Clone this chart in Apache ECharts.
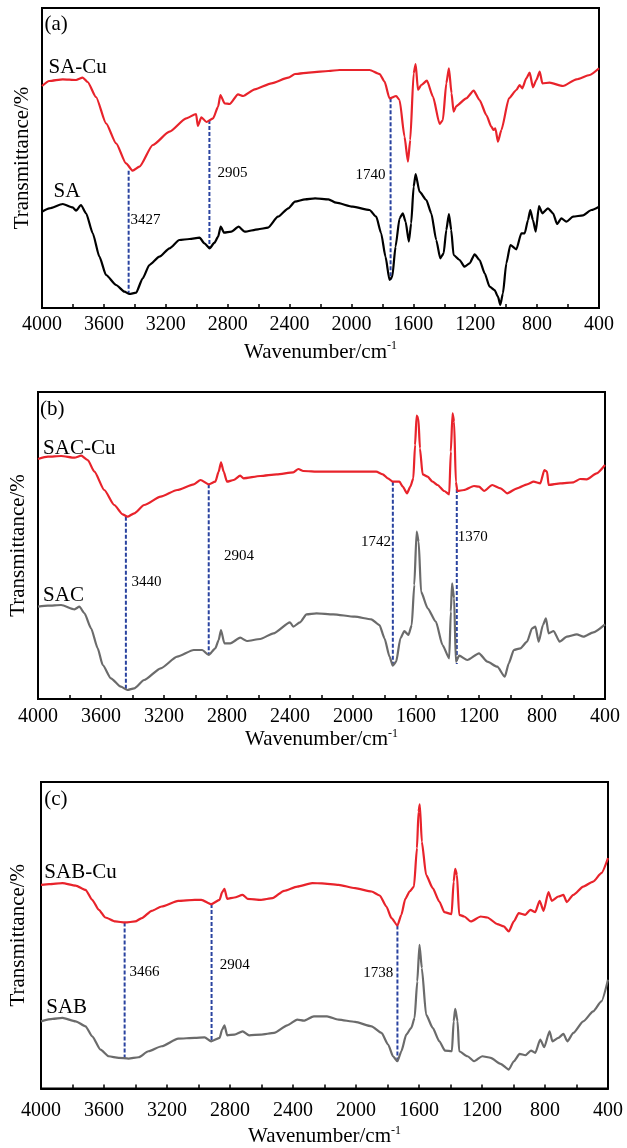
<!DOCTYPE html>
<html>
<head>
<meta charset="utf-8">
<script src="https://cdn.jsdelivr.net/npm/echarts/dist/echarts.min.js"></script>
<style>
  html, body { margin: 0; padding: 0; background: #fff; }
  #chart { width: 627px; height: 1148px; }
</style>
</head>
<body>
<div id="chart"></div>
<script>
// FTIR spectra, [wavenumber cm-1, relative transmittance]
const saCu = [[4000,222],[3953,227],[3866,228.7],[3780,228],[3737,230.3],[3705,226],[3651,211],[3586,184.7],[3521,164.7],[3457,144.7],[3414,137.3],[3370,141.3],[3284,163],[3176,176.3],[3068,189.7],[3004,194],[2993,182],[2970,190.7],[2937,186],[2894,189.7],[2862,201.3],[2847,213],[2820,204.7],[2787,204],[2733,213.7],[2700,212],[2625,218.7],[2517,224.7],[2408,230.3],[2365,234],[2257,235.7],[2149,237],[2077,238],[1883,238],[1818,234],[1786,226.3],[1754,209.7],[1711,212],[1689,208],[1657,171.3],[1635,146.3],[1620,168],[1598,234.7],[1585,244],[1570,218],[1549,223],[1512,227.3],[1473,211.3],[1430,184],[1409,188],[1387,224.7],[1370,239.7],[1353,214.7],[1340,196.3],[1322,202],[1258,209.7],[1210,217.3],[1172,208],[1128,193],[1096,181.3],[1081,178],[1070,179.7],[1053,166.3],[1031,178],[982,209.7],[934,218],[913,223],[896,219.7],[870,229.7],[848,235.3],[827,220.7],[805,228],[783,236.3],[766,224.7],[719,225.3],[633,222],[546,228.7],[460,233],[400,239.7]];
const sa = [[4000,96.3],[3953,99.7],[3866,104],[3802,100.7],[3780,97.3],[3748,103],[3715,94.7],[3672,74.7],[3629,51.3],[3586,33],[3521,23],[3467,16.3],[3435,14],[3392,15.3],[3349,29.7],[3306,43],[3241,51.3],[3176,59.7],[3112,68],[3047,69],[2982,70.3],[2950,64.7],[2917,59.7],[2885,65.3],[2862,71.3],[2845,81.3],[2823,75.3],[2776,76.3],[2729,81.3],[2690,76.3],[2604,78.7],[2539,80.3],[2475,91.3],[2408,99.7],[2365,106.3],[2300,108.7],[2235,109.7],[2149,108.7],[2099,105.3],[1991,101.3],[1883,98],[1840,91.3],[1808,74.7],[1780,51.3],[1754,28],[1736,31.3],[1715,61.3],[1689,89.7],[1668,94.7],[1650,86.3],[1629,66.3],[1614,84.7],[1598,121.3],[1585,134],[1560,116.3],[1516,108],[1484,94.7],[1452,68],[1426,49.7],[1404,54.7],[1387,78],[1370,94],[1355,78],[1340,53],[1301,48],[1269,41.3],[1236,44.7],[1204,53.7],[1172,48],[1139,34.7],[1107,21.3],[1075,18],[1053,11.3],[1038,3],[1021,14.7],[999,44.7],[973,63],[934,58.7],[902,74.7],[880,74.7],[859,88],[844,98],[827,88],[809,76.3],[788,102],[766,94.7],[730,99.7],[697,94.7],[671,84],[643,89.7],[611,86.3],[568,91.3],[503,92.7],[449,98],[400,101.3]];
const sacCu = [[4000,240],[3937,242.3],[3853,243],[3768,241.3],[3726,243.3],[3684,239],[3642,227.3],[3579,209],[3516,194],[3463,184.7],[3432,182.3],[3389,185.7],[3326,194],[3221,202.3],[3116,209],[3011,214.7],[2968,219],[2916,214.7],[2874,217.3],[2853,227.3],[2838,236.7],[2821,227.3],[2800,217.3],[2758,219],[2716,223.3],[2695,220.7],[2589,223],[2484,224.7],[2379,226.7],[2347,230],[2316,228],[2211,227.3],[1989,227.3],[1853,227.3],[1811,224.7],[1779,220.7],[1747,217.3],[1705,217.3],[1684,212.3],[1657,205.7],[1636,212.3],[1617,220.7],[1606,254],[1596,283.3],[1585,280.7],[1575,250.7],[1558,224.7],[1526,222.3],[1495,217.3],[1463,214],[1421,208],[1389,204.7],[1379,247.3],[1368,285.7],[1358,277.3],[1347,217.3],[1337,208],[1295,209],[1232,213],[1200,212.3],[1168,208],[1116,214],[1063,210.7],[1021,205.7],[958,210.7],[895,214.7],[853,217.3],[811,215.7],[785,229],[768,227.3],[758,214],[684,215.7],[600,216.7],[558,220],[516,219.7],[453,225.7],[400,234]];
const sac = [[4000,92.3],[3937,93.3],[3853,94],[3768,89.7],[3737,92.3],[3705,85.7],[3663,70.7],[3621,50.7],[3589,34],[3537,20.7],[3474,12.3],[3432,9],[3389,10.7],[3326,19],[3221,30.7],[3116,42.3],[3011,49],[2958,49],[2916,44],[2874,50.7],[2853,59],[2838,69],[2817,55.7],[2779,55.7],[2716,61.3],[2674,58],[2589,60],[2505,65.7],[2400,76.7],[2379,72.3],[2337,76.7],[2295,84.7],[2232,85.7],[2126,84.7],[1989,82.3],[1884,79.7],[1832,74],[1800,60.7],[1768,42.3],[1747,33.3],[1726,37.3],[1699,60.7],[1674,68],[1648,64],[1627,74],[1611,114],[1596,167.3],[1583,157.3],[1568,107.3],[1526,90.7],[1474,77.3],[1432,54],[1389,40.7],[1379,87.3],[1371,115.7],[1358,100.7],[1347,37.3],[1326,43.3],[1274,39],[1200,45.7],[1147,37.3],[1084,32.3],[1036,22.3],[1011,35.7],[979,49],[937,50.7],[895,57.3],[863,70.7],[842,72.3],[821,57.3],[794,74],[775,80.7],[758,65.7],[726,68],[688,57.3],[642,62.3],[579,64.7],[537,62.3],[474,66.7],[400,74.7]];
const sabCu = [[4000,204],[3948,204.7],[3864,205.7],[3780,203.3],[3717,199],[3675,189],[3633,179],[3591,171.3],[3528,167.3],[3465,166.3],[3402,167.3],[3360,170.7],[3297,178],[3234,182.3],[3129,188],[3024,189],[2982,189],[2919,184.7],[2866,189],[2850,196.7],[2835,200],[2818,190],[2772,191.3],[2720,194],[2688,190],[2604,189],[2530,190.7],[2457,198],[2373,202.3],[2278,205.7],[2216,205.5],[2111,204],[2006,200.7],[1901,197.3],[1849,193.3],[1807,182.3],[1775,170.7],[1737,163.3],[1712,174],[1687,190],[1660,197.3],[1632,202.3],[1613,240.7],[1603,277.3],[1595,284.7],[1582,247.3],[1555,214],[1513,200.7],[1471,187.3],[1439,176.7],[1393,174.7],[1380,207.3],[1370,220],[1359,214],[1345,174],[1313,172.3],[1271,167.3],[1208,172.3],[1166,171.3],[1103,164.7],[1061,162.3],[1030,157.3],[998,167.3],[967,175.7],[925,174],[893,179],[862,176.7],[834,188],[809,178],[778,196.7],[757,188],[715,192.3],[683,194],[662,186.7],[620,194],[557,202.3],[494,207.3],[442,215.7],[400,230.7]];
const sab = [[4000,67.3],[3926,69.7],[3864,70.7],[3780,67.3],[3717,62.3],[3675,52.3],[3622,39],[3570,32.3],[3507,30.7],[3444,30],[3381,31.3],[3318,37.3],[3234,42.3],[3129,50],[3024,50.7],[2961,51.3],[2919,47.3],[2866,50.7],[2850,59],[2835,63.3],[2818,53.3],[2772,54],[2720,57.3],[2678,53.3],[2604,54],[2520,55.7],[2436,63.3],[2373,69],[2331,68],[2268,72.3],[2184,72.3],[2111,69],[2006,66.7],[1901,62.3],[1838,55.7],[1796,44],[1765,32.3],[1737,27.3],[1712,37.3],[1681,54],[1649,60.7],[1628,70.7],[1611,107.3],[1597,144],[1582,120.7],[1555,74],[1513,60.7],[1471,47.3],[1435,38],[1391,37.3],[1380,67.3],[1370,79.7],[1355,67.3],[1345,37.3],[1292,32.3],[1250,27.3],[1198,32.3],[1145,30.7],[1082,24.7],[1030,19],[998,27.3],[961,34.7],[925,33.3],[889,38],[862,35.7],[830,49],[805,41.3],[771,57.3],[753,47.3],[715,50.7],[683,54.7],[658,47.3],[620,55.7],[557,67.3],[494,77.3],[442,87.3],[400,109]];

// peak markers: [wavenumber, top, bottom]
const marksA = [[3440,137.3,14],[2918,188,59.7],[1747,209.7,28]];
const marksB = [[3442,182.3,9],[2916,214.7,44],[1747,217.3,33.3],[1341,210,35]];
const marksC = [[3469,166.3,30],[2917,184.7,47.3],[1737,163.3,27.3]];

// text inside each panel: [text, wavenumber, value, flags] (r = right aligned, s = small)
const textA = [['(a)',3984,284,'l'],['SA-Cu',3958,241,'l'],['SA',3926,117,'l'],['3427',3428,88,'s'],['2905',2866,135,'s'],['1740',1780,133,'rs']];
const textB = [['(b)',3987,290,'l'],['SAC-Cu',3968,251,'l'],['SAC',3968,104,'l'],['3440',3406,117,'s'],['2904',2819,143,'s'],['1742',1758,157,'rs'],['1370',1335,162,'s']];
const textC = [['(c)',3979,289,'l'],['SAB-Cu',3979,216,'l'],['SAB',3967,81,'l'],['3466',3438,117,'s'],['2904',2865,124,'s'],['1738',1764,116,'rs']];

const xTicks = { min: 400, max: 4000, interval: 400 };
const FONT = 'Liberation Serif';
const RED = '#e8232b';
const GRAY = '#6b6b6b';
const BLUE = '#2a43a0';

var chart = echarts.init(document.getElementById('chart'), null, { renderer: 'canvas' });

const panels = [
  { grid: { left: 42, right: 28, top: 8, height: 300 }, ymax: 300, top: saCu, bottom: sa, bottomColor: '#000', marks: marksA, texts: textA, labelMargin: 7, nameGap: 32, yGap: 9 },
  { grid: { left: 35, right: 22, top: 392, height: 307 }, ymax: 307, top: sacCu, bottom: sac, bottomColor: GRAY, marks: marksB, texts: textB, labelMargin: 8, nameGap: 28, yGap: 9 },
  { grid: { left: 37, right: 19, top: 782, height: 307 }, ymax: 307, top: sabCu, bottom: sab, bottomColor: GRAY, marks: marksC, texts: textC, labelMargin: 12, nameGap: 36, yGap: 12 },
];

let grids = [], xAxes = [], yAxes = [], series = [];

panels.forEach((p, i) => {
  grids.push(Object.assign({ show: true, borderColor: '#000', borderWidth: 2, backgroundColor: 'transparent' }, p.grid));
  xAxes.push({
    gridIndex: i,
    type: 'value',
    inverse: true,
    min: xTicks.min,
    max: xTicks.max,
    interval: xTicks.interval,
    axisLine: { show: true, lineStyle: { color: '#000', width: 2 } },
    axisTick: { show: true, inside: true, length: 4, lineStyle: { color: '#000', width: 1.5 } },
    minorTick: { show: true, splitNumber: 2, length: 4, lineStyle: { color: '#000', width: 1.5 } },
    splitLine: { show: false },
    axisLabel: {
      color: '#000', fontFamily: FONT, fontSize: 20, margin: p.labelMargin,
      formatter: (v) => String(v),
    },
    name: '{a|Wavenumber/cm}{b|-1}',
    nameLocation: 'middle',
    nameGap: p.nameGap,
    nameTextStyle: {
      rich: {
        a: { fontFamily: FONT, fontSize: 21, color: '#000', lineHeight: 24 },
        b: { fontFamily: FONT, fontSize: 12, color: '#000', verticalAlign: 'top', lineHeight: 12 },
      },
    },
  });
  yAxes.push({
    gridIndex: i,
    type: 'value',
    min: 0,
    max: p.ymax,
    axisLine: { show: true, lineStyle: { color: '#000', width: 2 } },
    axisTick: { show: false },
    axisLabel: { show: false },
    splitLine: { show: false },
    name: 'Transmittance/%',
    nameLocation: 'middle',
    nameGap: p.yGap,
    nameTextStyle: { fontFamily: FONT, fontSize: 21, color: '#000' },
  });

  series.push({
    type: 'line', xAxisIndex: i, yAxisIndex: i, data: p.top, showSymbol: false,
    smooth: 0.2, smoothMonotone: 'x',
    lineStyle: { color: RED, width: 2.2 }, z: 3,
  });
  series.push({
    type: 'line', xAxisIndex: i, yAxisIndex: i, data: p.bottom, showSymbol: false,
    smooth: 0.2, smoothMonotone: 'x',
    lineStyle: { color: p.bottomColor, width: 2.2 }, z: 3,
  });
  p.marks.forEach((m) => {
    series.push({
      type: 'line', xAxisIndex: i, yAxisIndex: i, showSymbol: false,
      data: [[m[0], m[1]], [m[0], m[2]]],
      lineStyle: { color: BLUE, width: 2, type: [4, 2] }, z: 2,
    });
  });
  series.push({
    type: 'scatter', xAxisIndex: i, yAxisIndex: i, symbolSize: 0, z: 5,
    itemStyle: { opacity: 1 },
    data: p.texts.map((t) => {
      let small = t[3].indexOf('s') >= 0;
      let right = t[3].indexOf('r') >= 0;
      return {
        value: [t[1], t[2]],
        label: {
          show: true,
          formatter: t[0],
          position: right ? 'left' : 'right',
          distance: 0,
          color: '#000',
          opacity: 1,
          fontFamily: FONT,
          fontSize: small ? 15 : 21,
        },
      };
    }),
  });
});

chart.setOption({
  animation: false,
  backgroundColor: '#fff',
  grid: grids,
  xAxis: xAxes,
  yAxis: yAxes,
  series: series,
});
</script>
</body>
</html>
